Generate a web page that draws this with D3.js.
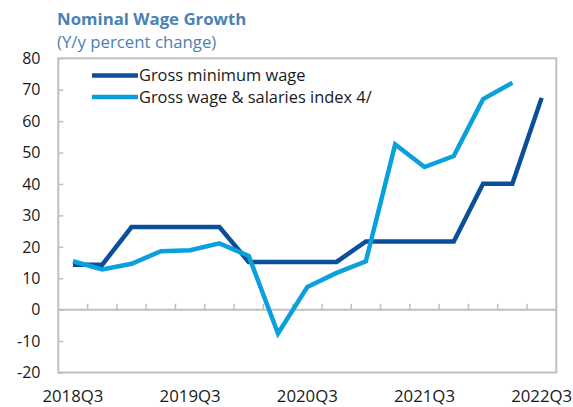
<!DOCTYPE html>
<html><head><meta charset="utf-8">
<script src="https://cdn.jsdelivr.net/npm/d3@7"></script>
<style>body{margin:0;background:#fff}svg{display:block}</style>
</head><body><svg id="c" width="573" height="407"></svg>
<script>
const quarters = ["2018Q3","2018Q4","2019Q1","2019Q2","2019Q3","2019Q4","2020Q1","2020Q2","2020Q3","2020Q4","2021Q1","2021Q2","2021Q3","2021Q4","2022Q1","2022Q2","2022Q3"];
const minimumWage = [14.3,14.3,26.3,26.3,26.3,26.3,15.2,15.2,15.2,15.2,21.7,21.7,21.7,21.7,40.1,40.1,67.4];
const wageIndex = [15.4,12.8,14.6,18.6,18.9,21.1,17.1,-7.6,7.2,11.7,15.4,52.6,45.4,48.9,67.0,72.2,null];
const yTicks = [80,70,60,50,40,30,20,10,0,-10,-20];
const xLabels = ["2018Q3","2019Q3","2020Q3","2021Q3","2022Q3"];
const seriesNames = ["Gross minimum wage","Gross wage & salaries index 4/"];
const colors = ["#0A4F98","#0AA0DE"];

const font = "'Open Sans', 'Noto Sans', sans-serif";
const svg = d3.select("#c");
const L = 58.3, R = 556.3, T = 58.3, B = 372.5;
const x = d3.scaleBand().domain(quarters).range([L, R]);
const y = d3.scaleLinear().domain([-20, 80]).range([B, T]);
const grey = "#BFBFBF";

// title
svg.append("text").attr("x", 57).attr("y", 25).attr("font-family", font).attr("font-weight", "bold")
  .attr("font-size", 16.8).attr("fill", "#4A82B5").text("Nominal Wage Growth");
svg.append("text").attr("x", 57).attr("y", 47.5).attr("font-family", font)
  .attr("font-size", 16.8).attr("fill", "#4A82B5").text("(Y/y percent change)");

// frame
svg.append("rect").attr("x", L).attr("y", T).attr("width", R - L).attr("height", B - T)
  .attr("fill", "none").attr("stroke", grey).attr("stroke-width", 2);

// y ticks
const yAxis = svg.append("g").attr("transform", `translate(${L},0)`)
  .call(d3.axisRight(y).tickValues(yTicks).tickSize(5).tickFormat(""));
yAxis.select(".domain").remove();
yAxis.selectAll("line").attr("stroke", grey).attr("stroke-width", 1.5);
svg.append("g").selectAll("text").data(yTicks).join("text")
  .attr("x", 40.5).attr("y", d => y(d)).attr("dy", "0.36em").attr("text-anchor", "end")
  .attr("font-family", font).attr("font-size", 16).attr("fill", "#1a1a1a").text(d => d);

// zero line with category ticks
const xAxis = svg.append("g").attr("transform", `translate(0,${y(0)})`)
  .call(d3.axisTop(x).tickValues(quarters.slice(1)).tickSize(6).tickFormat("").offset(0));
xAxis.selectAll(".tick").attr("transform", d => `translate(${x(d)},0)`);
xAxis.select(".domain").attr("d", `M${L},0H${R}`).attr("stroke", grey).attr("stroke-width", 2);
xAxis.selectAll("line").attr("stroke", grey).attr("stroke-width", 1.5);

// x labels
svg.append("g").selectAll("text").data(xLabels).join("text")
  .attr("x", d => x(d) + x.bandwidth() / 2).attr("y", 402).attr("text-anchor", "middle")
  .attr("font-family", font).attr("font-size", 16.8).attr("fill", "#1a1a1a").text(d => d);

// lines
const line = d3.line().defined(d => d[1] != null)
  .x(d => x(d[0]) + x.bandwidth() / 2).y(d => y(d[1]));
[minimumWage, wageIndex].forEach((vals, i) => {
  svg.append("path").datum(quarters.map((q, j) => [q, vals[j]]))
    .attr("d", line).attr("fill", "none").attr("stroke", colors[i])
    .attr("stroke-width", 4.5).attr("stroke-linejoin", "miter");
});

// legend
seriesNames.forEach((n, i) => {
  const ly = 75.5 + i * 21.5;
  svg.append("line").attr("x1", 92).attr("x2", 138).attr("y1", ly).attr("y2", ly)
    .attr("stroke", colors[i]).attr("stroke-width", 4.5);
  svg.append("text").attr("x", 139).attr("y", ly).attr("dy", "0.36em")
    .attr("font-family", font).attr("font-size", 16.4).attr("fill", "#1a1a1a").text(n);
});
</script></body></html>
